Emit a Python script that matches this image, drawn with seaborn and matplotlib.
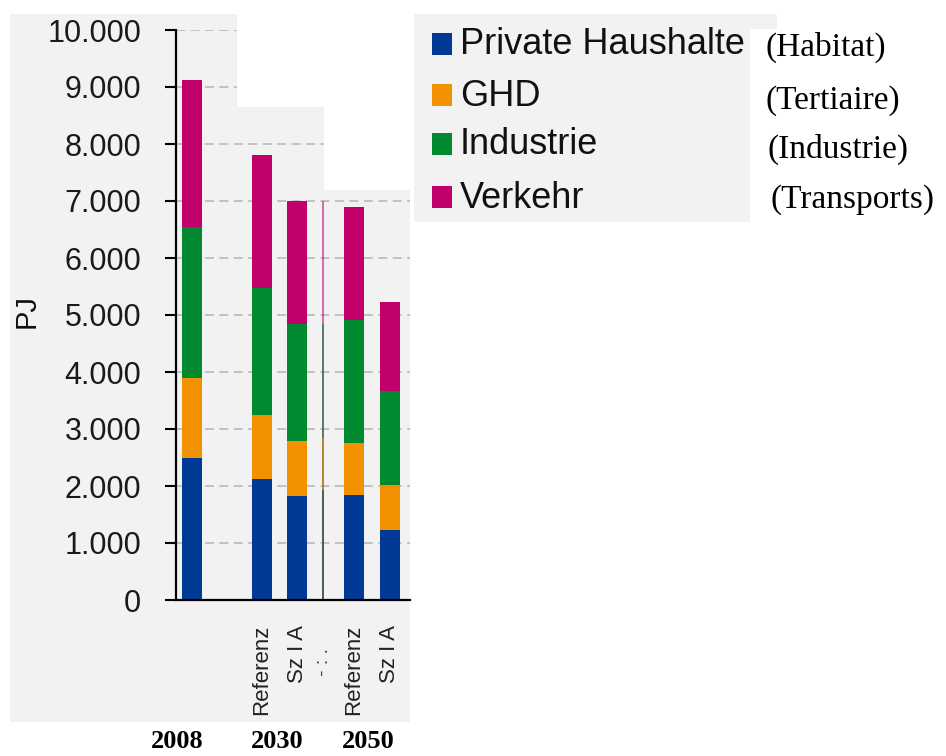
import numpy as np
import pandas as pd
import matplotlib
matplotlib.use("Agg")
import matplotlib.pyplot as plt
import seaborn as sns
from matplotlib.patches import Polygon, Rectangle
from matplotlib.ticker import FuncFormatter

# ---------------- data ----------------
scenarios = ["2008", "Referenz", "Sz I A", "Referenz", "Sz I A"]
years = ["2008", "2030", "2050"]
sectors = ["Private Haushalte", "GHD", "Industrie", "Verkehr"]
sectors_fr = ["(Habitat)", "(Tertiaire)", "(Industrie)", "(Transports)"]
haushalte = [2490, 2120, 1830, 1840, 1230]
ghd = [1400, 1130, 960, 920, 780]
industrie = [2650, 2220, 2050, 2150, 1660]
verkehr = [2580, 2330, 2160, 1980, 1550]
sliver = [1930, 910, 2000, 2160]   # thin remnant bar in the collage
yticks = list(range(0, 10001, 1000))

# ---------------- style ----------------
colors = ["#003a96", "#f39200", "#00892f", "#c2006b"]
W, H = 946, 756
sns.set_theme(style="white")
plt.rcParams["font.family"] = ["Liberation Sans", "DejaVu Sans"]

fig = plt.figure(figsize=(W / 100, H / 100), dpi=100)
fig.patch.set_facecolor("white")

def fx(x):
    return x / W

def fy(y):
    return 1 - y / H

# gray collage background behind chart
bg = [(10, 14), (237, 14), (237, 107), (324, 107), (324, 190), (410, 190),
      (410, 722), (10, 722)]
fig.patches.append(Polygon([(fx(x), fy(y)) for x, y in bg], closed=True,
                           transform=fig.transFigure, facecolor="#f2f2f2",
                           edgecolor="none", zorder=-5))
# gray legend background
lg = [(414, 14), (777, 14), (777, 29), (750, 29), (750, 222), (414, 222)]
fig.patches.append(Polygon([(fx(x), fy(y)) for x, y in lg], closed=True,
                           transform=fig.transFigure, facecolor="#f2f2f2",
                           edgecolor="none", zorder=-5))

ax = fig.add_axes([fx(176), fy(600), (410 - 176) / W, (600 - 30) / H])
ax.set_zorder(2)
ax.set_facecolor("none")
ax.patch.set_alpha(0)

# positions (layout only)
xpos = [0, 1.958, 2.958, 4.563, 5.577]
df = pd.DataFrame({"pos": xpos, "Private Haushalte": haushalte, "GHD": ghd,
                   "Industrie": industrie, "Verkehr": verkehr})
cum = df[sectors].cumsum(axis=1)

for s, c in zip(sectors[::-1], colors[::-1]):
    sns.barplot(x=df["pos"], y=cum[s], native_scale=True, width=0.563,
                color=c, saturation=1, errorbar=None, ax=ax, zorder=3,
                linewidth=0, edgecolor="none")

# sliver remnant
sl_cum = np.cumsum(sliver)
for v, c in zip(sl_cum[::-1], colors[::-1]):
    ax.bar(3.69, v, width=0.035, color=c, alpha=0.55, zorder=3, linewidth=0)

ax.set_xlim((176 - 192) / 35.5, (410 - 192) / 35.5)
ax.set_ylim(0, 10000)

# gridlines clipped to the gray panels
for t in yticks[1:]:
    if t >= 9000:
        xmax = (237 - 176) / 234
    elif t >= 8000:
        xmax = (324 - 176) / 234
    else:
        xmax = 1.0
    ax.axhline(t, xmin=0, xmax=xmax, color="#bdbdbd", lw=1.3,
               dashes=(5, 3), zorder=1)

ax.set_yticks(yticks)
ax.yaxis.set_major_formatter(FuncFormatter(lambda v, p: f"{v:,.0f}".replace(",", ".")))
ax.tick_params(axis="y", length=8, width=1.5, color="black", direction="out",
               labelsize=22, labelcolor="#1a1a1a", pad=17, left=True)

ax.set_xticks(xpos[1:])
ax.set_xticklabels(scenarios[1:], rotation=90, va="top", ha="center",
                   fontsize=16,
                   fontfamily=["Liberation Sans Narrow", "Liberation Sans", "DejaVu Sans"],
                   color="#222222")
ax.tick_params(axis="x", length=0, pad=18)
ax.set_xlabel("")
ax.set_ylabel("")

for sp in ["top", "right"]:
    ax.spines[sp].set_visible(False)
for sp in ["left", "bottom"]:
    ax.spines[sp].set_visible(True)
    ax.spines[sp].set_color("black")
    ax.spines[sp].set_linewidth(1.6)
    ax.spines[sp].set_zorder(4)

# y label
fig.text(fx(27), fy(311), "PJ", rotation=90, ha="center", va="center",
         fontsize=21, color="#111111")

# remnant label mark
fig.text(fx(323), fy(662), "- : .", rotation=90, ha="center", va="center",
         fontsize=14, color="#444444",
         fontfamily=["Liberation Sans Narrow", "Liberation Sans", "DejaVu Sans"])

# year labels
for yr, x in zip(years, [177, 277, 368]):
    fig.text(fx(x), fy(741), yr, ha="center", va="center", fontsize=19,
             fontweight="bold", color="black",
             fontfamily=["Liberation Serif", "DejaVu Serif"])

# legend (manual)
ycent = [44, 95, 144, 197]
fr_x = [765, 765, 767, 770]
fr_y = [47, 101, 149, 200]
for lab, fr, c, yc, frx, fry in zip(sectors, sectors_fr, colors, ycent, fr_x, fr_y):
    fig.patches.append(Rectangle((fx(432), fy(yc + 11)), 20 / W, 22 / H,
                                 transform=fig.transFigure, facecolor=c,
                                 edgecolor="none", zorder=2))
    fig.text(fx(460), fy(yc + 1), lab, ha="left", va="center", fontsize=26,
             color="#111111", fontfamily=["Liberation Sans", "DejaVu Sans"])
    fig.text(fx(frx), fy(fry), fr, ha="left", va="center", fontsize=24,
             color="black", fontfamily=["Liberation Serif", "DejaVu Serif"])

fig.savefig("out.png", dpi=100, facecolor="white")
